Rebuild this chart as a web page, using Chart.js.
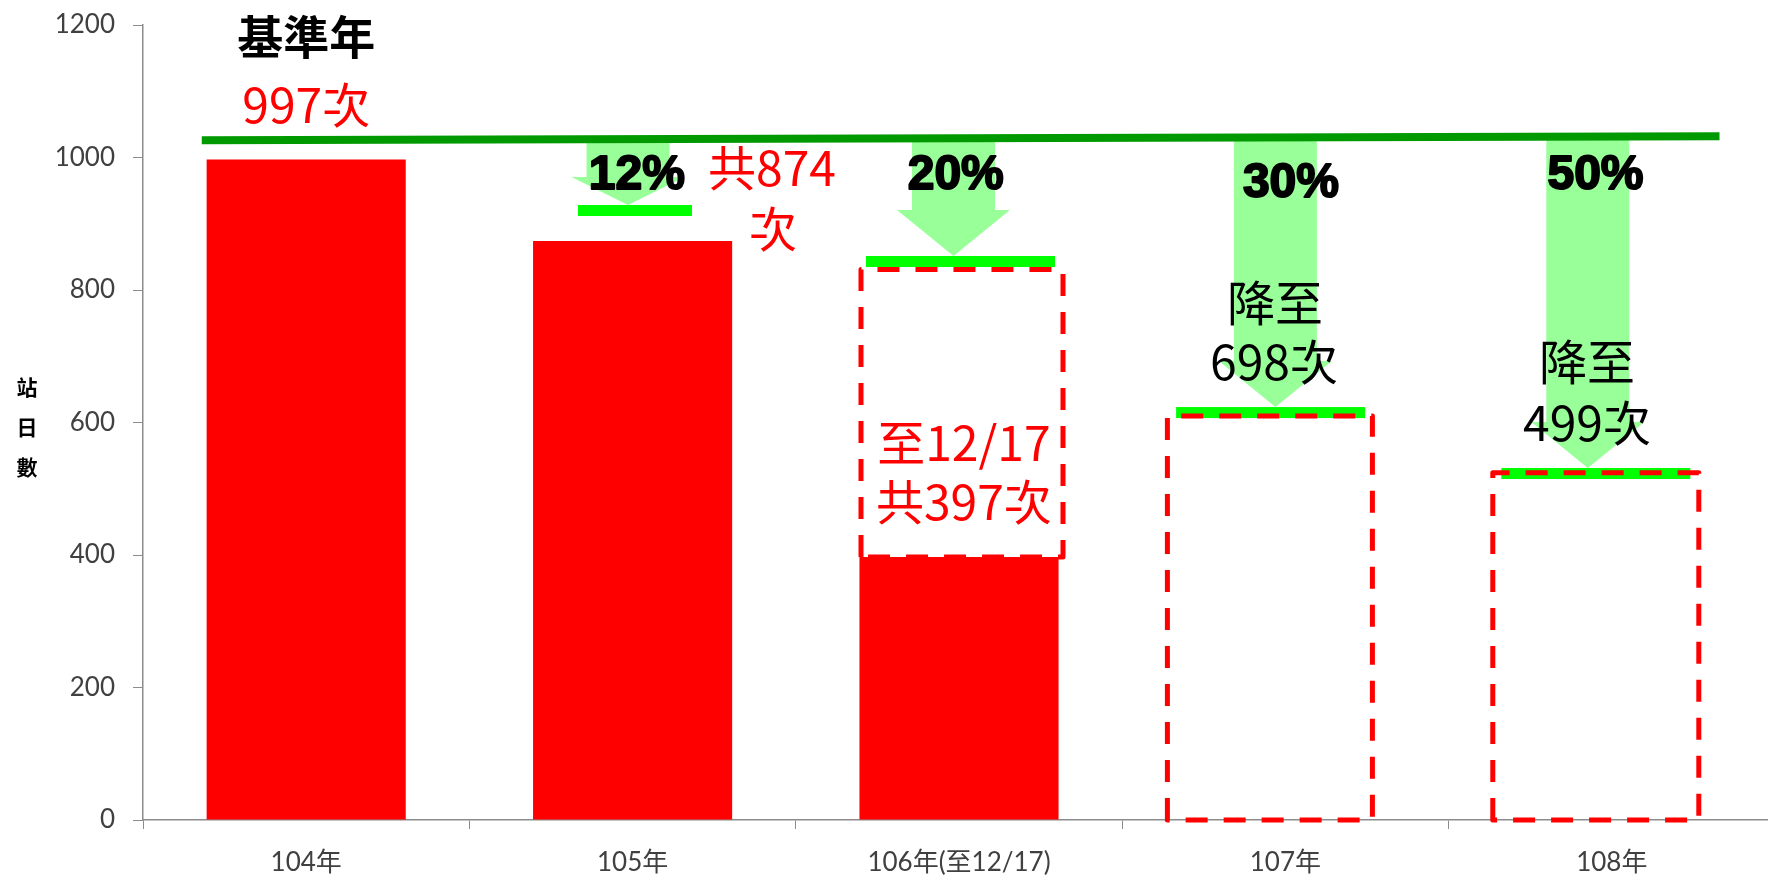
<!DOCTYPE html>
<html>
<head>
<meta charset="utf-8">
<script src="https://cdn.jsdelivr.net/npm/chart.js@4"></script>
<style>
  html, body { margin: 0; padding: 0; background: #fff; overflow: hidden; }
  #wrap { width: 1776px; height: 876px; }
</style>
</head>
<body>
<div id="wrap"><canvas id="tripsChart"></canvas></div>
<script>
// data
const years = ['104年', '105年', '106年(至12/17)', '107年', '108年'];
const actualDays = [997, 874, 397, null, null];
const baseLine = [{x: -0.32, y: 1026}, {x: 4.33, y: 1032}];
const targetMark = [null, 920, 843, 615, 523];
const goalBoxTop = [null, null, 831, 610, 524];
const goalBoxBottom = [null, null, 397, 0, 0];
const yTicks = [0, 200, 400, 600, 800, 1000, 1200];
const yTitle = ['站', '日', '數'];

// where the drawn shapes sit, in px relative to the category centre
const shapes = [
    null,
    {arrow: -4.6, head: 28, mark: 2.4, markW: 114},
    {arrow: -5.5, head: 46, mark: 1.5, markW: 189, box: 3, boxW: 202},
    {arrow: -10, head: 46, mark: -14.8, markW: 189, box: -15.5, boxW: 205},
    {arrow: -24, head: 46, mark: -16, markW: 189, box: -16, boxW: 206}
];

const notes = [
    {t: '基準年', i: 0, v: 1183, c: '#000', w: 'bold', s: 46},
    {t: '997次', i: 0, v: 1080, c: '#f00'},
    {t: '12%', i: 1.013, v: 973, pct: true},
    {t: '共874', i: 1.427, v: 984, c: '#f00'},
    {t: '次', i: 1.43, v: 893, c: '#f00'},
    {t: '20%', i: 1.99, v: 973, pct: true},
    {t: '至12/17', i: 2.015, v: 570, c: '#f00'},
    {t: '共397次', i: 2.015, v: 481, c: '#f00'},
    {t: '30%', i: 3.017, v: 960, pct: true},
    {t: '降至', i: 2.968, v: 781},
    {t: '698次', i: 2.965, v: 691},
    {t: '50%', i: 3.95, v: 973, pct: true},
    {t: '降至', i: 3.924, v: 691},
    {t: '499次', i: 3.924, v: 600}
];

const cjk = '"Noto Sans CJK TC", "Noto Sans CJK SC", sans-serif';
const MARK_H = 11;

function baseValueAt(i) {
    const a = baseLine[0], b = baseLine[1];
    return a.y + (i - a.x) * (b.y - a.y) / (b.x - a.x);
}

const overlay = {
    id: 'overlay',
    beforeDatasetsDraw(chart) {
        const {ctx, scales: {x, y}} = chart;
        ctx.save();
        ctx.fillStyle = '#99ff99';
        targetMark.forEach((v, i) => {
            if (v == null) return;
            const m = shapes[i];
            const cx = x.getPixelForValue(i) + m.arrow;
            const top = y.getPixelForValue(baseValueAt(i));
            const apex = y.getPixelForValue(v) - MARK_H / 2;
            const headTop = apex - m.head;
            ctx.beginPath();
            ctx.moveTo(cx - 41.5, top);
            ctx.lineTo(cx + 41.5, top);
            ctx.lineTo(cx + 41.5, headTop);
            ctx.lineTo(cx + 56.5, headTop);
            ctx.lineTo(cx, apex);
            ctx.lineTo(cx - 56.5, headTop);
            ctx.lineTo(cx - 41.5, headTop);
            ctx.closePath();
            ctx.fill();
        });
        ctx.restore();
    },
    afterDatasetsDraw(chart) {
        const {ctx, scales: {x, y}} = chart;
        const step = x.getPixelForValue(1) - x.getPixelForValue(0);
        ctx.save();

        // bright green target marks
        ctx.fillStyle = '#00ff00';
        targetMark.forEach((v, i) => {
            if (v == null) return;
            const m = shapes[i];
            const cx = x.getPixelForValue(i) + m.mark;
            ctx.fillRect(cx - m.markW / 2, y.getPixelForValue(v) - MARK_H / 2, m.markW, MARK_H);
        });

        // dashed goal boxes
        ctx.strokeStyle = '#ff0000';
        ctx.lineWidth = 5;
        ctx.setLineDash([22, 16]);
        ctx.lineJoin = 'round';
        goalBoxTop.forEach((v, i) => {
            if (v == null) return;
            const m = shapes[i];
            const cx = x.getPixelForValue(i) + m.box;
            const l = cx - m.boxW / 2, r = cx + m.boxW / 2;
            const t = y.getPixelForValue(v), b = y.getPixelForValue(goalBoxBottom[i]);
            ctx.beginPath();
            ctx.moveTo(l, b);
            ctx.lineTo(l, t);
            ctx.lineTo(r, t);
            ctx.lineTo(r, b);
            ctx.closePath();
            ctx.stroke();
        });
        ctx.setLineDash([]);

        // annotations
        ctx.textAlign = 'center';
        ctx.textBaseline = 'middle';
        notes.forEach(n => {
            const px = x.getPixelForValue(0) + n.i * step;
            const py = y.getPixelForValue(n.v);
            if (n.pct) {
                ctx.font = 'bold 48px "Liberation Sans", Arial, sans-serif';
                ctx.fillStyle = '#000';
                ctx.strokeStyle = '#000';
                ctx.lineWidth = 2;
                ctx.strokeText(n.t, px, py);
                ctx.fillText(n.t, px, py);
            } else {
                ctx.font = (n.w || 'normal') + ' ' + (n.s || 48) + 'px ' + cjk;
                ctx.fillStyle = n.c || '#000';
                ctx.fillText(n.t, px, py);
            }
        });
        ctx.restore();
    },
    afterDraw(chart) {
        const {ctx, scales: {y}} = chart;
        ctx.save();
        ctx.font = 'bold 21px ' + cjk;
        ctx.fillStyle = '#000';
        ctx.textAlign = 'center';
        ctx.textBaseline = 'middle';
        const startV = 653;
        yTitle.forEach((ch, k) => {
            ctx.fillText(ch, y.left + 27, y.getPixelForValue(startV) + k * 40);
        });
        ctx.restore();
    }
};

const ctx = document.getElementById('tripsChart').getContext('2d');
const tripsChart = new Chart(ctx, {
    type: 'bar',
    data: {
        labels: years,
        datasets: [{
            label: '站日數',
            data: actualDays,
            backgroundColor: '#ff0000',
            borderWidth: 0,
            barPercentage: 0.61,
            categoryPercentage: 1,
            grouped: false,
            order: 2
        }, {
            type: 'line',
            label: '基準年',
            data: baseLine,
            xAxisID: 'xb',
            borderColor: '#009900',
            borderWidth: 8,
            pointRadius: 0,
            fill: false,
            order: 1
        }]
    },
    options: {
        responsive: true,
        maintainAspectRatio: false,
        animation: false,
        layout: {padding: {top: 25, right: 1, left: 0, bottom: 0}},
        plugins: {
            legend: {display: false},
            tooltip: {enabled: false},
            title: {display: false}
        },
        scales: {
            x: {
                type: 'category',
                offset: true,
                grid: {offset: true, drawOnChartArea: false, drawTicks: true, tickLength: 9, color: '#8c8c8c'},
                border: {display: true, color: '#8c8c8c', width: 1.5},
                ticks: {
                    color: '#404040',
                    padding: 18,
                    maxRotation: 0,
                    font: {size: 26, family: 'Lato, "Noto Sans CJK TC", sans-serif'}
                },
                afterFit: s => { s.height = 56; s.paddingLeft = 0; s.paddingRight = 0; }
            },
            xb: {
                type: 'linear',
                display: false,
                offset: false,
                min: -0.5,
                max: 4.5
            },
            y: {
                min: 0,
                max: 1200,
                afterBuildTicks: s => { s.ticks = yTicks.map(v => ({value: v})); },
                grid: {drawOnChartArea: false, drawTicks: true, tickLength: 10, color: '#8c8c8c'},
                border: {display: true, color: '#8c8c8c', width: 1.5},
                ticks: {
                    color: '#404040',
                    padding: 18,
                    font: {size: 26, family: 'Lato, sans-serif'},
                    callback: v => String(v)
                },
                afterFit: s => { s.width = 143; s.paddingTop = 0; s.paddingBottom = 0; }
            }
        }
    },
    plugins: [overlay]
});
</script>
</body>
</html>
